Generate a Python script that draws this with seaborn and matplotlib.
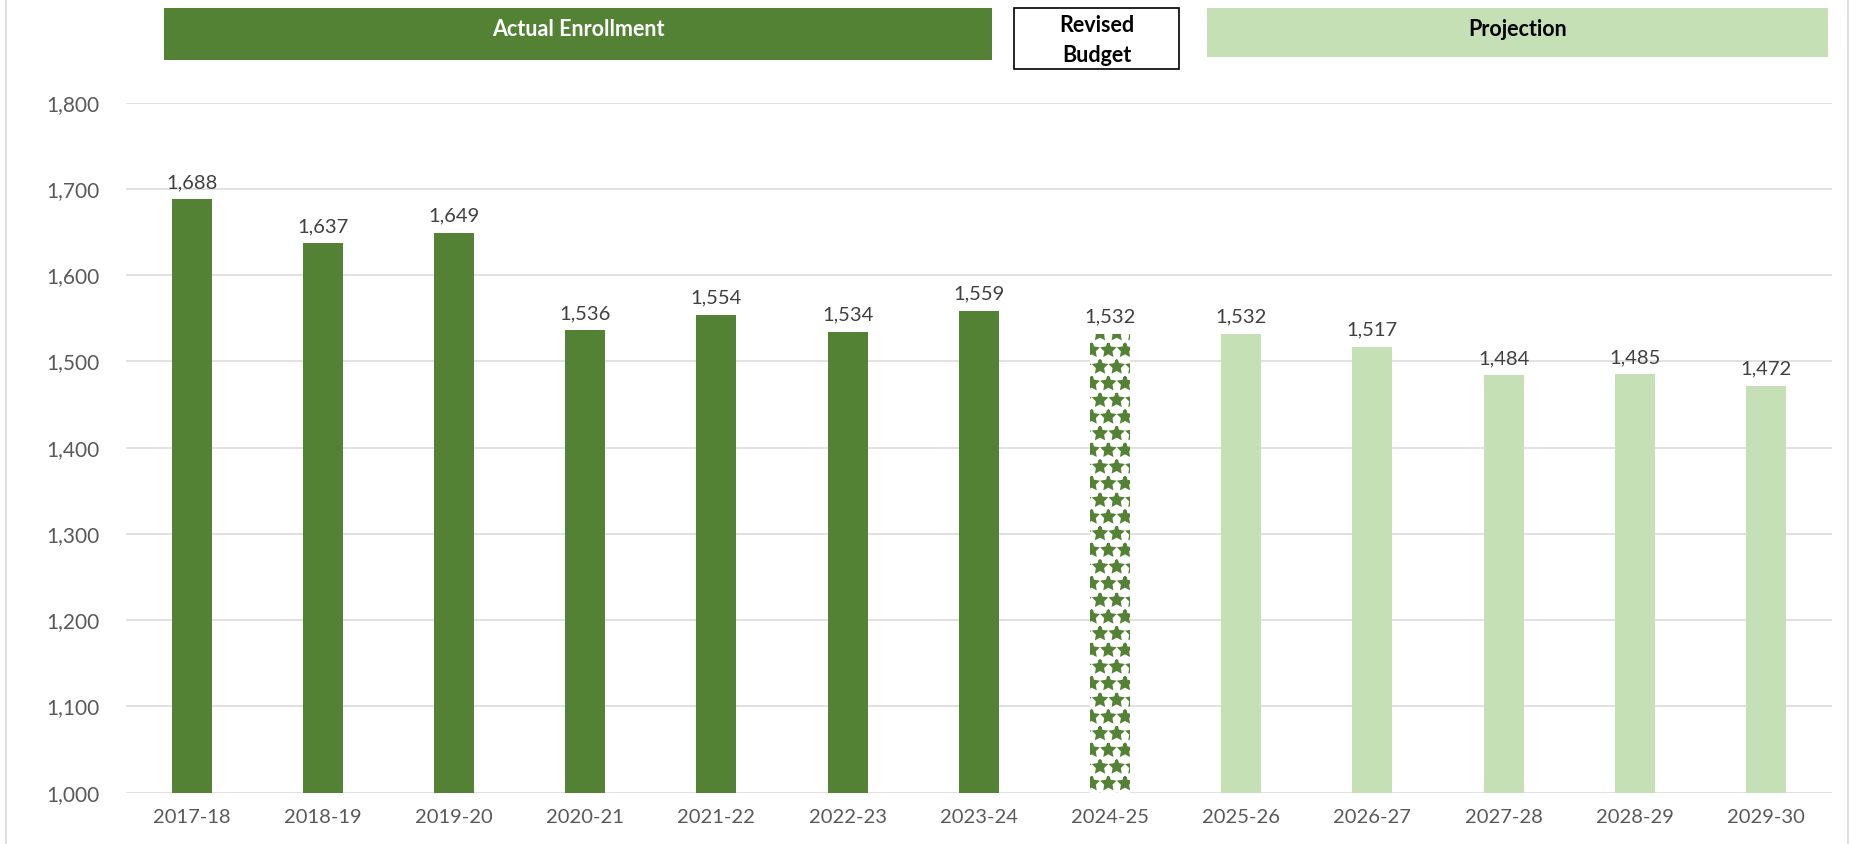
import matplotlib
matplotlib.use("Agg")
import numpy as np
import pandas as pd
import seaborn as sns
import matplotlib.pyplot as plt
from matplotlib.patches import Rectangle
from matplotlib.lines import Line2D
from matplotlib.ticker import FuncFormatter

# Chart data
years = ["2017-18", "2018-19", "2019-20", "2020-21", "2021-22", "2022-23", "2023-24",
         "2024-25", "2025-26", "2026-27", "2027-28", "2028-29", "2029-30"]
enrollment = [1688, 1637, 1649, 1536, 1554, 1534, 1559, 1532, 1532, 1517, 1484, 1485, 1472]
phase = ["actual"] * 7 + ["budget"] + ["projection"] * 5

DARK = "#548235"
LIGHT = "#C5E0B4"
GRID = "#D9D9D9"

sns.set_theme(style="white")
plt.rcParams['font.family'] = ['Lato', 'DejaVu Sans']
plt.rcParams['hatch.linewidth'] = 2.0

df = pd.DataFrame({"year": years, "enrollment": enrollment, "phase": phase})
colors = {"actual": DARK, "budget": "white", "projection": LIGHT}

W, H = 1851, 844
fig = plt.figure(figsize=(W / 100, H / 100), dpi=100)
ax = fig.add_axes([126 / W, 51.3 / H, (1831.6 - 126) / W, (792.7 - 102.7) / H])

sns.barplot(data=df, x="year", y="enrollment", hue="phase", palette=colors,
            width=0.305, legend=False, ax=ax, dodge=False, saturation=1)

# patterned bar for revised budget
for p in ax.patches:
    p.set_linewidth(0)
bars = sorted(ax.patches, key=lambda p: p.get_x())
budget_bar = bars[phase.index("budget")]
budget_bar.set_facecolor("white")
budget_bar.set_edgecolor(DARK)
budget_bar.set_hatch("*")

ax.set_ylim(1000, 1800)
ax.set_xlim(-0.5, len(years) - 0.5)
ax.set_yticks(np.arange(1000, 1801, 100))
ax.yaxis.set_major_formatter(FuncFormatter(lambda v, _: f"{int(v):,}"))
ax.grid(axis="y", color=GRID, linewidth=1.1)
ax.set_axisbelow(True)
for s in ax.spines.values():
    s.set_visible(False)
ax.tick_params(axis="y", length=0, labelsize=15, colors="#595959", pad=19)
ax.tick_params(axis="x", length=0, labelsize=14.5, colors="#595959", pad=12)
ax.set_xlabel("")
ax.set_ylabel("")

# data labels
for i, v in enumerate(enrollment):
    ax.annotate(f"{v:,}", (i, v), xytext=(0, 6), textcoords="offset points",
                ha="center", va="bottom", fontsize=14.5, color="#404040")

# header boxes (figure pixel coords converted to fractions)
def box(x0, x1, y0, y1, fc, ec):
    fig.add_artist(Rectangle((x0 / W, 1 - y1 / H), (x1 - x0) / W, (y1 - y0) / H,
                             transform=fig.transFigure, facecolor=fc,
                             edgecolor=ec, linewidth=1.2 if ec != "none" else 0))

box(164, 992, 8, 60, DARK, "none")
box(1014, 1179, 8, 69, "white", "black")
box(1207, 1828, 8, 57, LIGHT, "none")

fig.text((164 + 992) / 2 / W, 1 - 29 / H, "Actual Enrollment", ha="center", va="center",
         fontsize=15.5, fontweight="bold", color="white")
fig.text((1014 + 1179) / 2 / W, 1 - 26 / H, "Revised", ha="center", va="center",
         fontsize=15.5, fontweight="bold", color="black")
fig.text((1014 + 1179) / 2 / W, 1 - 55 / H, "Budget", ha="center", va="center",
         fontsize=15.5, fontweight="bold", color="black")
fig.text((1207 + 1828) / 2 / W, 1 - 29 / H, "Projection", ha="center", va="center",
         fontsize=15.5, fontweight="bold", color="black")

# chart area border (left and right edges)
for xpx in (6, 1848):
    fig.add_artist(Line2D([xpx / W, xpx / W], [0, 1], transform=fig.transFigure,
                          color=GRID, linewidth=1.2))

fig.savefig("out.png", dpi=100, facecolor="white")
